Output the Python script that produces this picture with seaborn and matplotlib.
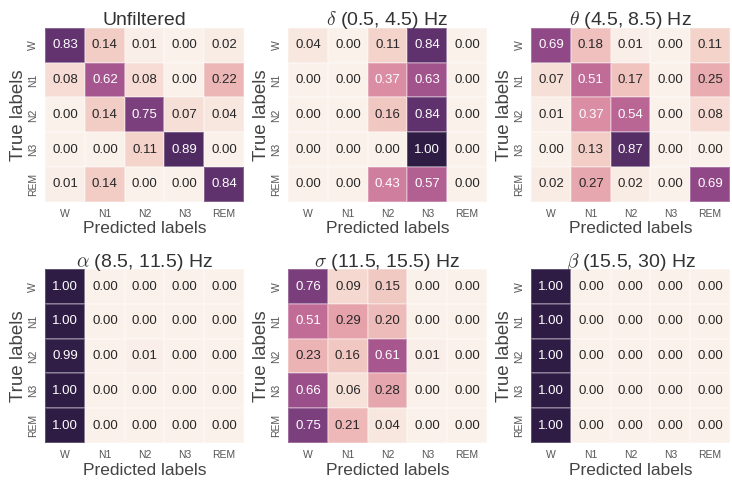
import matplotlib
matplotlib.use("Agg")
import matplotlib.pyplot as plt
import numpy as np
import pandas as pd
import seaborn as sns

# ── Data ──────────────────────────────────────────────────────────────────────
stages = ["W", "N1", "N2", "N3", "REM"]

titles = [
    "Unfiltered",
    r"$\delta$ (0.5, 4.5) Hz",
    r"$\theta$ (4.5, 8.5) Hz",
    r"$\alpha$ (8.5, 11.5) Hz",
    r"$\sigma$ (11.5, 15.5) Hz",
    r"$\beta$ (15.5, 30) Hz",
]

cm_unfiltered = [
    [0.83, 0.14, 0.01, 0.00, 0.02],
    [0.08, 0.62, 0.08, 0.00, 0.22],
    [0.00, 0.14, 0.75, 0.07, 0.04],
    [0.00, 0.00, 0.11, 0.89, 0.00],
    [0.01, 0.14, 0.00, 0.00, 0.84],
]
cm_delta = [
    [0.04, 0.00, 0.11, 0.84, 0.00],
    [0.00, 0.00, 0.37, 0.63, 0.00],
    [0.00, 0.00, 0.16, 0.84, 0.00],
    [0.00, 0.00, 0.00, 1.00, 0.00],
    [0.00, 0.00, 0.43, 0.57, 0.00],
]
cm_theta = [
    [0.69, 0.18, 0.01, 0.00, 0.11],
    [0.07, 0.51, 0.17, 0.00, 0.25],
    [0.01, 0.37, 0.54, 0.00, 0.08],
    [0.00, 0.13, 0.87, 0.00, 0.00],
    [0.02, 0.27, 0.02, 0.00, 0.69],
]
cm_alpha = [
    [1.00, 0.00, 0.00, 0.00, 0.00],
    [1.00, 0.00, 0.00, 0.00, 0.00],
    [0.99, 0.00, 0.01, 0.00, 0.00],
    [1.00, 0.00, 0.00, 0.00, 0.00],
    [1.00, 0.00, 0.00, 0.00, 0.00],
]
cm_sigma = [
    [0.76, 0.09, 0.15, 0.00, 0.00],
    [0.51, 0.29, 0.20, 0.00, 0.00],
    [0.23, 0.16, 0.61, 0.01, 0.00],
    [0.66, 0.06, 0.28, 0.00, 0.00],
    [0.75, 0.21, 0.04, 0.00, 0.00],
]
cm_beta = [
    [1.00, 0.00, 0.00, 0.00, 0.00],
    [1.00, 0.00, 0.00, 0.00, 0.00],
    [1.00, 0.00, 0.00, 0.00, 0.00],
    [1.00, 0.00, 0.00, 0.00, 0.00],
    [1.00, 0.00, 0.00, 0.00, 0.00],
]

matrices = [cm_unfiltered, cm_delta, cm_theta, cm_alpha, cm_sigma, cm_beta]

# ── Style ─────────────────────────────────────────────────────────────────────
sns.set_theme(style="white")
plt.rcParams["font.family"] = ["Liberation Sans", "DejaVu Sans"]
plt.rcParams["mathtext.fontset"] = "cm"

cmap = sns.cubehelix_palette(light=0.95, hue=1.0, as_cmap=True)

fig, axes = plt.subplots(2, 3, figsize=(7.32, 4.83), dpi=100)
fig.subplots_adjust(left=0.062, right=0.997, top=0.942, bottom=0.083,
                    wspace=0.225, hspace=0.39)

for ax, title, cm in zip(axes.flat, titles, matrices):
    df = pd.DataFrame(cm, index=stages, columns=stages)
    sns.heatmap(
        df,
        ax=ax,
        annot=True,
        fmt=".2f",
        cmap=cmap,
        vmin=0,
        vmax=1,
        cbar=False,
        linewidths=0.3,
        linecolor=(1, 1, 1, 0.25),
        annot_kws={"size": 9.5},
    )
    ax.set_title(title, fontsize=14, pad=2, color="#333333")
    ax.set_xlabel("Predicted labels", fontsize=12.5, color="#444444", labelpad=2)
    ax.set_ylabel("True labels", fontsize=13.5, color="#444444", labelpad=1)
    ax.set_xticklabels(stages, fontsize=7.5, color="#555555", rotation=0)
    ax.set_yticklabels(stages, fontsize=7.5, color="#555555", rotation=90, va="center")
    ax.tick_params(length=0, pad=5)

fig.savefig("out.png", dpi=100)
